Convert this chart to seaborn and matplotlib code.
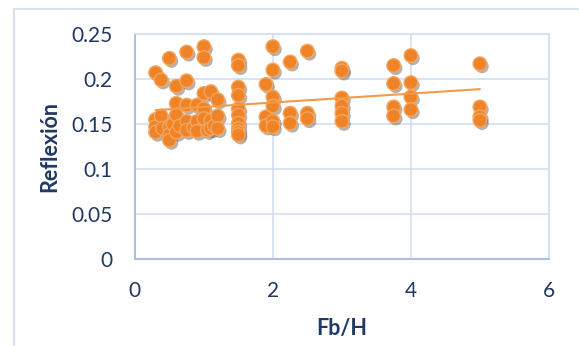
import numpy as np
import pandas as pd
import seaborn as sns
import matplotlib.pyplot as plt
import matplotlib.patheffects as pe
from matplotlib.patches import Rectangle

# values, column by column
fb_h = [0.3, 0.3, 0.3, 0.3,
        0.38, 0.38, 0.4,
        0.5, 0.5, 0.5, 0.5, 0.55,
        0.6, 0.6, 0.6, 0.6, 0.65,
        0.75, 0.75, 0.75, 0.75, 0.75,
        0.85, 0.9, 0.9, 0.9,
        1.0, 1.0, 1.0, 1.0, 1.0, 1.05,
        1.1, 1.1, 1.1, 1.15,
        1.2, 1.2, 1.2,
        1.5, 1.5, 1.5, 1.5, 1.5, 1.5, 1.5, 1.5, 1.5, 1.5,
        1.9, 1.9, 1.9,
        2.0, 2.0, 2.0, 2.0, 2.0, 2.0,
        2.25, 2.25, 2.25,
        2.5, 2.5, 2.5,
        3.0, 3.0, 3.0, 3.0, 3.0, 3.0,
        3.75, 3.75, 3.75, 3.75,
        4.0, 4.0, 4.0, 4.0,
        5.0, 5.0, 5.0, 5.0]
reflexion = [0.207, 0.155, 0.147, 0.141,
             0.199, 0.159, 0.145,
             0.223, 0.147, 0.138, 0.132, 0.150,
             0.192, 0.173, 0.160, 0.141, 0.148,
             0.230, 0.198, 0.171, 0.153, 0.143,
             0.146, 0.171, 0.153, 0.142,
             0.236, 0.224, 0.184, 0.167, 0.156, 0.143,
             0.186, 0.154, 0.145, 0.148,
             0.177, 0.159, 0.145,
             0.221, 0.215, 0.191, 0.182, 0.167, 0.160, 0.151, 0.145, 0.141, 0.138,
             0.194, 0.158, 0.148,
             0.236, 0.210, 0.180, 0.170, 0.153, 0.147,
             0.219, 0.162, 0.151,
             0.231, 0.162, 0.156,
             0.212, 0.209, 0.179, 0.170, 0.162, 0.153,
             0.215, 0.195, 0.169, 0.159,
             0.226, 0.196, 0.180, 0.166,
             0.217, 0.169, 0.158, 0.154]

x_ticks = [0, 2, 4, 6]
y_ticks = [0, 0.05, 0.1, 0.15, 0.2, 0.25]
y_labels = ["0", "0.05", "0.1", "0.15", "0.2", "0.25"]

df = pd.DataFrame({"Fb/H": fb_h, "Reflexión": reflexion})

sns.set_style("white")
plt.rcParams['font.family'] = ['Lato', 'DejaVu Sans']

navy = "#1F3864"
grid_c = "#D3DEF1"
axis_c = "#A8BFE3"
orange = "#EE8427"

fig = plt.figure(figsize=(5.79, 3.46), dpi=100)
ax = fig.add_axes([0.233, 0.2514, 0.715, 0.6503])

# outer chart border
fig.patches.append(Rectangle((14 / 579, -0.1), 1.2, 1 - 9 / 346 + 0.1,
                             transform=fig.transFigure, fill=False,
                             edgecolor="#D6E0EF", linewidth=1.5))

sns.regplot(data=df, x="Fb/H", y="Reflexión", ax=ax, ci=None,
            scatter_kws={"s": 95, "color": orange, "edgecolor": "#F6A55E",
                         "linewidths": 1.0, "alpha": 1, "zorder": 3},
            line_kws={"color": "#F39A4B", "linewidth": 1.5, "zorder": 4})

ax.collections[0].set_path_effects([
    pe.SimplePatchShadow(offset=(1.5, -2), shadow_rgbFace="#555555", alpha=0.45),
    pe.Normal()])

ax.set_xlim(0, 6)
ax.set_ylim(0, 0.25)
ax.set_xticks(x_ticks)
ax.set_yticks(y_ticks)
ax.set_yticklabels(y_labels)
ax.tick_params(length=0, labelsize=15, labelcolor=navy)
ax.tick_params(axis="x", pad=16)
ax.tick_params(axis="y", pad=16)

ax.grid(True, color=grid_c, linewidth=1.2)
ax.set_axisbelow(True)
for side in ["top", "right"]:
    ax.spines[side].set_color(grid_c)
    ax.spines[side].set_linewidth(1.2)
for side in ["left", "bottom"]:
    ax.spines[side].set_color(axis_c)
    ax.spines[side].set_linewidth(1.4)

ax.set_xlabel("Fb/H", fontsize=15.5, fontweight="bold", color=navy, labelpad=12)
ax.set_ylabel("Reflexión", fontsize=15.5, fontweight="bold", color=navy, labelpad=8)

fig.savefig("out.png", dpi=100)
